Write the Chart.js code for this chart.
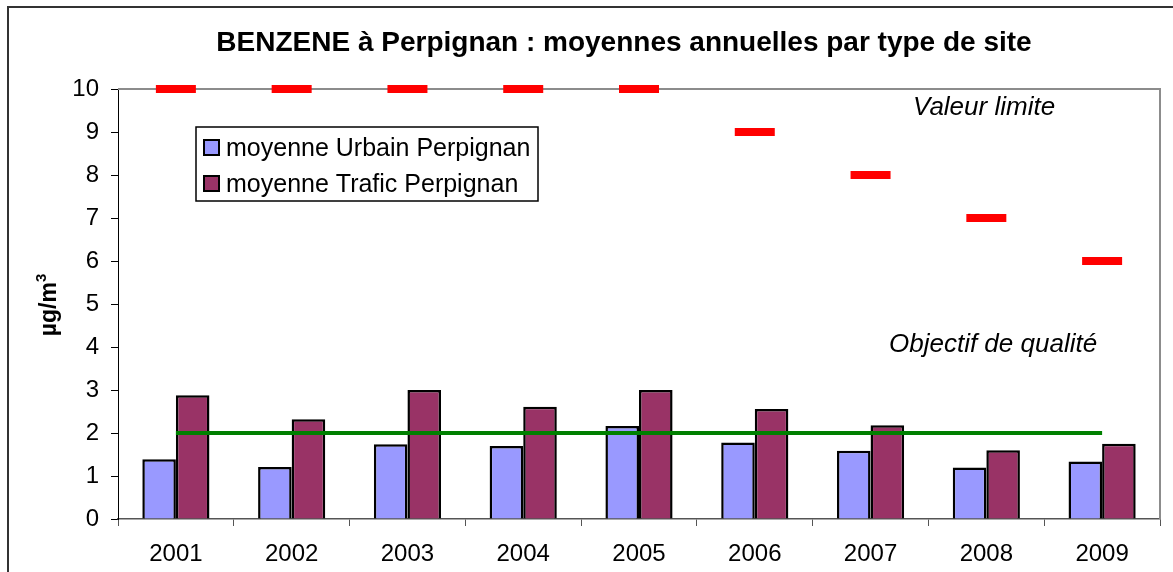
<!DOCTYPE html>
<html>
<head>
<meta charset="utf-8">
<script src="https://cdn.jsdelivr.net/npm/chart.js@4"></script>
<style>
  html, body { margin: 0; padding: 0; background: #fff; }
  #c { display: block; }
</style>
</head>
<body>
<canvas id="c" width="1173" height="572"></canvas>
<script>
const years = ['2001', '2002', '2003', '2004', '2005', '2006', '2007', '2008', '2009'];
const urbain = [1.39, 1.21, 1.74, 1.70, 2.16, 1.78, 1.59, 1.20, 1.34];
const trafic = [2.88, 2.32, 3.00, 2.61, 3.00, 2.56, 2.18, 1.60, 1.75];
const valeurLimite = [10, 10, 10, 10, 10, 9, 8, 7, 6];
const objectifQualite = [2, 2, 2, 2, 2, 2, 2, 2, 2];
const seriesNames = ['moyenne Urbain Perpignan', 'moyenne Trafic Perpignan'];
const titleText = 'BENZENE à Perpignan : moyennes annuelles par type de site';
const yTitle = 'µg/m';
const yTitleSup = '3';
const labelLimite = 'Valeur limite';
const labelObjectif = 'Objectif de qualité';
const yMin = 0, yMax = 10, yStep = 1;

const FONT = "'Liberation Sans', Arial, sans-serif";

const decor = {
  id: 'decor',
  beforeDraw(chart) {
    const ctx = chart.ctx;
    ctx.save();
    ctx.fillStyle = '#fff';
    ctx.fillRect(0, 0, chart.width, chart.height);
    ctx.restore();
  },
  beforeDatasetsDraw(chart) {
    const ctx = chart.ctx;
    const a = chart.chartArea;
    ctx.save();
    ctx.strokeStyle = '#8c8c8c';
    ctx.lineWidth = 2;
    ctx.beginPath();
    ctx.moveTo(a.left, a.top);
    ctx.lineTo(a.right, a.top);
    ctx.lineTo(a.right, a.bottom);
    ctx.stroke();
    ctx.restore();
  },
  afterDraw(chart) {
    const ctx = chart.ctx;
    ctx.save();
    ctx.strokeStyle = '#333';
    ctx.lineWidth = 2;
    ctx.strokeRect(8, 7, chart.width + 20, chart.height + 20);
    ctx.fillStyle = '#000';
    ctx.font = 'bold 28px ' + FONT;
    ctx.textAlign = 'center';
    ctx.textBaseline = 'alphabetic';
    ctx.fillText(titleText, 624, 51);
    ctx.save();
    ctx.translate(56, 305);
    ctx.rotate(-Math.PI / 2);
    ctx.font = 'bold 23px ' + FONT;
    const w1 = ctx.measureText(yTitle).width;
    ctx.font = 'bold 15px ' + FONT;
    const w2 = ctx.measureText(yTitleSup).width;
    const startX = -(w1 + w2) / 2;
    ctx.textAlign = 'left';
    ctx.font = 'bold 23px ' + FONT;
    ctx.fillText(yTitle, startX, 0);
    ctx.font = 'bold 15px ' + FONT;
    ctx.fillText(yTitleSup, startX + w1, -10);
    ctx.restore();
    ctx.font = 'italic 26px ' + FONT;
    ctx.textAlign = 'left';
    ctx.fillText(labelLimite, 913, 115);
    ctx.fillText(labelObjectif, 889, 352);
    ctx.fillStyle = '#fff';
    ctx.fillRect(196, 127, 342, 74);
    ctx.strokeStyle = '#000';
    ctx.lineWidth = 1.5;
    ctx.strokeRect(196, 127, 342, 74);
    const colors = [chart.data.datasets[0].backgroundColor, chart.data.datasets[1].backgroundColor];
    const rowsY = [148, 184];
    ctx.font = '25px ' + FONT;
    ctx.textBaseline = 'middle';
    for (let i = 0; i < 2; i++) {
      ctx.fillStyle = colors[i];
      ctx.fillRect(204, rowsY[i] - 8, 15, 15);
      ctx.strokeStyle = '#000';
      ctx.lineWidth = 2;
      ctx.strokeRect(204, rowsY[i] - 8, 15, 15);
      ctx.fillStyle = '#000';
      ctx.fillText(seriesNames[i], 226, rowsY[i] + 1);
    }
    ctx.restore();
  }
};

new Chart(document.getElementById('c'), {
  type: 'bar',
  data: {
    labels: years,
    datasets: [
      {
        label: seriesNames[0],
        data: urbain,
        backgroundColor: '#9999FF',
        borderColor: '#000',
        borderWidth: 2.5,
        order: 3,
        categoryPercentage: 0.58,
        barPercentage: 1.0
      },
      {
        label: seriesNames[1],
        data: trafic,
        backgroundColor: '#993366',
        borderColor: '#000',
        borderWidth: 2.5,
        order: 3,
        categoryPercentage: 0.58,
        barPercentage: 1.0
      },
      {
        type: 'line',
        label: labelObjectif,
        data: objectifQualite,
        borderColor: '#008000',
        borderWidth: 4,
        pointRadius: 0,
        fill: false,
        order: 2
      },
      {
        type: 'line',
        label: labelLimite,
        data: valeurLimite,
        showLine: false,
        pointStyle: 'line',
        pointRadius: 20,
        pointHoverRadius: 20,
        pointBorderWidth: 8,
        pointBorderColor: '#FF0000',
        borderColor: '#FF0000',
        backgroundColor: '#FF0000',
        clip: false,
        order: 1
      }
    ]
  },
  options: {
    responsive: false,
    animation: false,
    devicePixelRatio: 1,
    layout: { autoPadding: false, padding: { top: 89, right: 13, left: 0, bottom: 0 } },
    plugins: {
      legend: { display: false },
      title: { display: false },
      tooltip: { enabled: false }
    },
    scales: {
      x: {
        offset: true,
        grid: { display: true, drawOnChartArea: false, offset: true, tickLength: 7, color: '#555', lineWidth: 1 },
        border: { display: true, color: '#555', width: 1.5 },
        ticks: { color: '#000', font: { family: FONT, size: 24 }, padding: 14, maxRotation: 0 },
        afterFit(scale) { scale.height = 53; }
      },
      y: {
        min: yMin,
        max: yMax,
        grid: { display: true, drawOnChartArea: false, tickLength: 7, color: '#000', lineWidth: 1 },
        border: { display: true, color: '#000', width: 1 },
        ticks: { stepSize: yStep, color: '#000', font: { family: FONT, size: 24 }, padding: 12 },
        afterFit(scale) { scale.width = 118; }
      }
    }
  },
  plugins: [decor]
});
</script>
</body>
</html>
